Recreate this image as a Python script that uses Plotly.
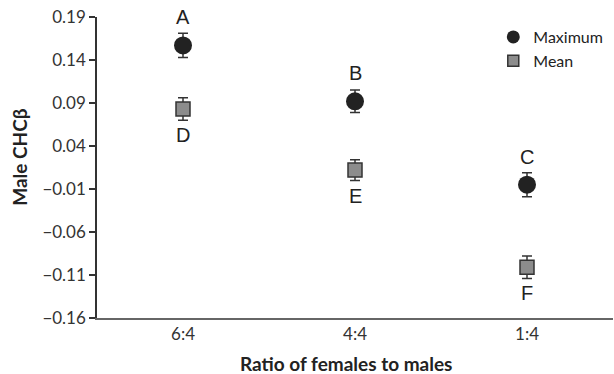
import plotly.graph_objects as go

ratios = ["6:4", "4:4", "1:4"]
max_vals = [0.157, 0.092, -0.005]
max_err = [0.014, 0.013, 0.014]
mean_vals = [0.083, 0.012, -0.101]
mean_err = [0.013, 0.012, 0.013]
max_letters = ["A", "B", "C"]
mean_letters = ["D", "E", "F"]
y_ticks = [0.19, 0.14, 0.09, 0.04, -0.01, -0.06, -0.11, -0.16]
y_tick_text = ["0.19", "0.14", "0.09", "0.04", "\u22120.01", "\u22120.06", "\u22120.11", "\u22120.16"]

xpos = list(range(len(ratios)))

fig = go.Figure()
# Data markers with error bars
fig.add_trace(go.Scatter(
    x=xpos, y=max_vals, mode="markers", name="Maximum", showlegend=False,
    marker=dict(symbol="circle", size=18, color="#222222", line=dict(width=0)),
    error_y=dict(type="data", array=max_err, color="#333333", thickness=1.5, width=5),
))
fig.add_trace(go.Scatter(
    x=xpos, y=mean_vals, mode="markers", name="Mean", showlegend=False,
    marker=dict(symbol="square", size=14, color="#8c8c8c", line=dict(width=1.5, color="#333333")),
    error_y=dict(type="data", array=mean_err, color="#333333", thickness=1.5, width=5),
))
# Legend entries with smaller symbols
fig.add_trace(go.Scatter(
    x=[None], y=[None], mode="markers", name="Maximum",
    marker=dict(symbol="circle", size=13, color="#222222", line=dict(width=0)),
))
fig.add_trace(go.Scatter(
    x=[None], y=[None], mode="markers", name="Mean",
    marker=dict(symbol="square", size=11, color="#8c8c8c", line=dict(width=1.5, color="#333333")),
))

annotations = []
for x, v, t in zip(xpos, max_vals, max_letters):
    annotations.append(dict(x=x, y=v, text=t, showarrow=False, yshift=28,
                            font=dict(family="Liberation Sans", size=20, color="#222222")))
for x, v, t in zip(xpos, mean_vals, mean_letters):
    annotations.append(dict(x=x, y=v, text=t, showarrow=False, yshift=-26,
                            font=dict(family="Liberation Sans", size=20, color="#222222")))

# Axis titles
annotations.append(dict(xref="paper", yref="paper", x=-0.1495, y=0.535, textangle=-90,
                        text="<b>Male CHC\u03b2</b>", showarrow=False,
                        xanchor="center", yanchor="middle",
                        font=dict(family="Lato", size=19, color="#222222")))
annotations.append(dict(xref="paper", yref="paper", x=0.482, y=-0.15,
                        text="<b>Ratio of females to males</b>", showarrow=False,
                        xanchor="center", yanchor="middle",
                        font=dict(family="Lato", size=19, color="#222222")))

fig.update_layout(
    width=614, height=374,
    margin=dict(l=97, r=1, t=17, b=56, autoexpand=False),
    paper_bgcolor="white", plot_bgcolor="white",
    showlegend=True,
    legend=dict(x=0.768, y=0.99, xanchor="left", yanchor="top",
                font=dict(family="Lato", size=16, color="#222222"),
                bgcolor="rgba(0,0,0,0)", itemwidth=30, tracegroupgap=0),
    annotations=annotations,
    xaxis=dict(
        range=[-0.5, 2.5], tickvals=xpos, ticktext=ratios,
        showline=True, linecolor="#666666", linewidth=2, ticks="",
        showgrid=False, zeroline=False,
        tickfont=dict(family="Lato", size=17, color="#333333"),
    ),
    yaxis=dict(
        range=[-0.16, 0.19], tickvals=y_ticks, ticktext=y_tick_text,
        showline=True, linecolor="#333333", linewidth=1.5, ticks="outside",
        ticklen=6, tickcolor="#333333", tickwidth=1.5,
        showgrid=False, zeroline=False,
        tickfont=dict(family="Lato", size=17, color="#333333"),
    ),
)

fig.write_html("out.html")
